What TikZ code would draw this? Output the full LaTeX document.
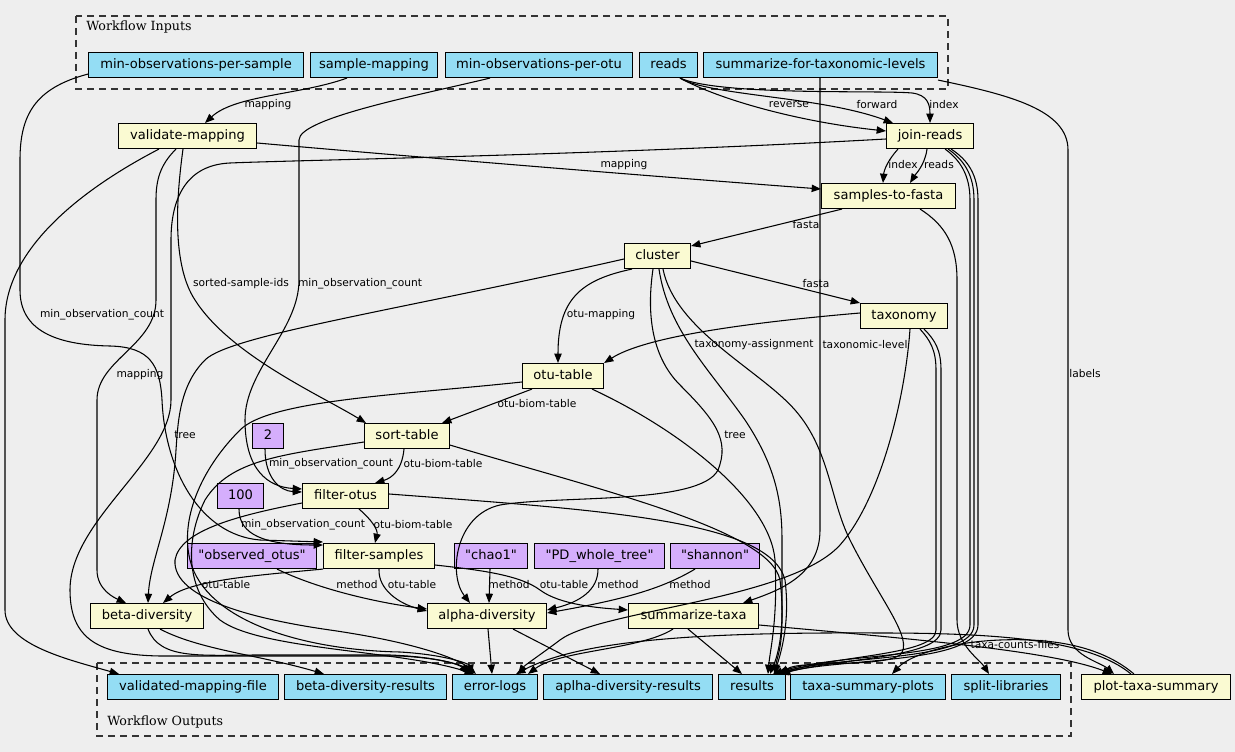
\documentclass[tikz,border=0pt]{standalone}
\usepackage{fontspec}
\setmainfont{DejaVu Sans}
\newfontfamily\plainfont{DejaVu Sans}
\newfontfamily\clusterfont{DejaVu Serif}
\usetikzlibrary{arrows.meta,calc}
\definecolor{bgc}{HTML}{EEEEEE}
\definecolor{inblue}{HTML}{94DDF4}
\definecolor{stepyel}{HTML}{FAFAD2}
\definecolor{defpur}{HTML}{D5AEFC}
\begin{document}
\begin{tikzpicture}[x=0.75pt,y=-0.75pt,
  box/.style={draw=black, line width=0.8pt, anchor=north west, minimum height=18.75pt, inner sep=0pt, font=\fontsize{9.8}{11}\selectfont, text height=7.3pt, text depth=2pt},
  inp/.style={box, fill=inblue},
  stepbox/.style={box, fill=stepyel},
  defv/.style={box, fill=defpur, font=\plainfont\fontsize{9.8}{11}\selectfont},
  conn/.style={line width=0.8pt, -{Triangle[length=7pt,width=5.5pt]}},
  lab/.style={font=\fontsize{8}{9}\selectfont, inner sep=0pt},
  grp/.style={draw=black!80, dash pattern=on 5.5pt off 3.5pt, line width=0.8pt},
  grplab/.style={anchor=west, inner sep=0pt, font=\clusterfont\fontsize{9.5}{11}\selectfont}
]
\fill[bgc] (0,0) rectangle (1235,752);
\useasboundingbox (0,0) rectangle (1235,752);

% clusters
\draw[grp] (76,16) rectangle (948,89);
\node[grplab] (inlab) at (86,27) {Workflow Inputs};
\draw[grp] (97,663) rectangle (1071,736);
\node[grplab] (outlab) at (107,722) {Workflow Outputs};

% inputs
\node[inp, minimum width=161.25pt] (mops) at (88,52) {min-observations-per-sample};
\node[inp, minimum width=95.25pt] (smap) at (310,52) {sample-mapping};
\node[inp, minimum width=140.25pt] (mopo) at (445,52) {min-observations-per-otu};
\node[inp, minimum width=43.5pt] (reads) at (639,52) {reads};
\node[inp, minimum width=175.5pt] (sftl) at (703,52) {summarize-for-taxonomic-levels};

% steps
\node[stepbox, minimum width=103.5pt] (vm) at (118,123) {validate-mapping};
\node[stepbox, minimum width=65.25pt] (jr) at (886,123) {join-reads};
\node[stepbox, minimum width=100.5pt] (stf) at (821,183) {samples-to-fasta};
\node[stepbox, minimum width=49.5pt] (cluster) at (624,243) {cluster};
\node[stepbox, minimum width=65.25pt] (taxonomy) at (860,303) {taxonomy};
\node[stepbox, minimum width=60.75pt] (otu) at (522,363) {otu-table};
\node[stepbox, minimum width=63.75pt] (sort) at (364,423) {sort-table};
\node[defv, minimum width=23.25pt] (d2) at (252,423) {2};
\node[stepbox, minimum width=64.5pt] (fo) at (302,483) {filter-otus};
\node[defv, minimum width=34.5pt] (d100) at (217,483) {100};
\node[defv, minimum width=96.75pt] (obs) at (187,543) {"observed\_otus"};
\node[stepbox, minimum width=83.25pt] (fs) at (323,543) {filter-samples};
\node[defv, minimum width=54.75pt] (chao) at (454,543) {"chao1"};
\node[defv, minimum width=97.5pt] (pd) at (534,543) {"PD\_whole\_tree"};
\node[defv, minimum width=66.75pt] (shannon) at (670,543) {"shannon"};
\node[stepbox, minimum width=84.75pt] (beta) at (90,603) {beta-diversity};
\node[stepbox, minimum width=89.25pt] (alpha) at (427,603) {alpha-diversity};
\node[stepbox, minimum width=97.5pt] (st) at (628,603) {summarize-taxa};

% outputs
\node[inp, minimum width=128.25pt] (vmf) at (107,674) {validated-mapping-file};
\node[inp, minimum width=121.5pt] (bdr) at (284,674) {beta-diversity-results};
\node[inp, minimum width=63.75pt] (el) at (452,674) {error-logs};
\node[inp, minimum width=126.75pt] (adr) at (543,674) {aplha-diversity-results};
\node[inp, minimum width=50.25pt] (results) at (718,674) {results};
\node[inp, minimum width=116.25pt] (tsp) at (790,674) {taxa-summary-plots};
\node[inp, minimum width=81.75pt] (sl) at (951,674) {split-libraries};
\node[stepbox, minimum width=111.75pt] (pts) at (1081,674) {plot-taxa-summary};

% ---- edges from inputs
\draw[conn] ($(smap.south west)+(37,0)$) .. controls (300,95) and (235,95) .. ($(vm.north west)+(87,0)$) node[lab] at (268,105) {mapping};
\draw[conn] ($(mops.south west)+(0,-4)$) .. controls (35,88) and (20,115) .. (20,160) -- (20,290) .. controls (20,330) and (55,345) .. (110,346) .. controls (150,347) and (160,365) .. (162,400) .. controls (165,470) and (200,535) .. (260,540) -- ($(fs.north west)+(0,-1)$) node[lab] at (102,315) {min\_observation\_count};
\draw[conn] ($(d100.south west)+(22,0)$) .. controls (239,535) and (265,545) .. ($(fs.north west)+(0,2)$) node[lab] at (303,525) {min\_observation\_count};
\draw[conn] ($(mopo.south west)+(45,0)$) .. controls (420,95) and (299,118) .. (299,140) -- (299,280) .. controls (299,330) and (245,370) .. (245,420) .. controls (245,470) and (268,487) .. ($(fo.north west)+(0,6)$) node[lab] at (360,284) {min\_observation\_count};
\draw[conn] ($(d2.south west)+(13,0)$) .. controls (265,478) and (280,491) .. ($(fo.north west)+(0,9)$) node[lab] at (331,464) {min\_observation\_count};
\draw[conn] ($(reads.south west)+(41,0)$) .. controls (720,100) and (800,122) .. ($(jr.north west)+(0,8)$) node[lab] at (789,105) {reverse};
\draw[conn] ($(reads.south west)+(41,0)$) .. controls (710,96) and (820,96) .. ($(jr.north west)+(7,0)$) node[lab] at (877,105) {forward};
\draw[conn] ($(reads.south west)+(41,0)$) .. controls (720,96) and (880,90) .. (912,93) .. controls (928,95) and (930,105) .. ($(jr.north west)+(44,0)$) node[lab] at (944,105) {index};
\draw[conn] ($(sftl.south west)+(117,0)$) -- (820,530) .. controls (820,575) and (780,590) .. ($(st.north west)+(115,0)$) node[lab] at (865,345) {taxonomic-level};
\draw[conn] ($(sftl.south east)+(0,2)$) .. controls (1010,95) and (1068,110) .. (1068,150) -- (1068,630) .. controls (1068,655) and (1100,662) .. ($(pts.north west)+(33,0)$) node[lab] at (1085,374) {labels};

% ---- validate-mapping
\draw[conn] ($(vm.north east)+(0,20)$) .. controls (450,160) and (700,180) .. ($(stf.north west)+(0,6)$) node[lab] at (624,165) {mapping};
\draw[conn] ($(vm.south west)+(65,0)$) .. controls (176,200) and (172,265) .. (195,300) .. controls (230,355) and (320,395) .. ($(sort.north west)+(2,0)$) node[lab] at (241,284) {sorted-sample-ids};
\draw[conn] ($(vm.south west)+(58,0)$) .. controls (160,165) and (156,180) .. (156,200) -- (156,300) .. controls (156,345) and (97,360) .. (97,400) -- (97,570) .. controls (97,590) and (115,598) .. ($(beta.north west)+(36,0)$) node[lab] at (140,375) {mapping};
\draw[conn] ($(vm.south west)+(41,0)$) .. controls (80,190) and (5,250) .. (5,320) -- (5,610) .. controls (5,645) and (70,660) .. ($(vmf.north west)+(12,0)$);

% ---- join-reads
\draw[conn] ($(jr.south west)+(12,0)$) .. controls (888,160) and (884,170) .. ($(stf.north west)+(62,0)$) node[lab] at (903,165) {index};
\draw[conn] ($(jr.south west)+(41,0)$) .. controls (925,165) and (915,175) .. ($(stf.north west)+(89,0)$) node[lab] at (939,165) {reads};
\draw[conn] ($(jr.north west)+(0,16)$) .. controls (600,155) and (300,160) .. (230,163) .. controls (185,165) and (171,200) .. (171,240) -- (171,400) .. controls (171,460) and (70,520) .. (70,590) .. controls (70,640) and (100,655) .. (160,656) -- (400,656) .. controls (440,658) and (462,665) .. ($(el.north west)+(18,0)$);
\draw[conn] ($(jr.south east)+(-29,0)$) .. controls (960,160) and (970,175) .. (970,200) -- (970,625) .. controls (970,660) and (840,652) .. ($(results.north west)+(55,0)$);
\draw[conn] ($(jr.south east)+(-26,0)$) .. controls (964,160) and (974,175) .. (974,200) -- (974,625) .. controls (974,662) and (840,655) .. ($(results.north west)+(58,0)$);
\draw[conn] ($(jr.south east)+(-23,0)$) .. controls (968,160) and (978,175) .. (978,200) -- (978,625) .. controls (978,664) and (840,658) .. ($(results.north west)+(61,0)$);

% ---- samples-to-fasta
\draw[conn] ($(stf.south west)+(21,0)$) -- ($(cluster.north east)+(0,3)$) node[lab] at (806,225) {fasta};
\draw[conn] ($(stf.south east)+(-36,0)$) .. controls (945,225) and (957,245) .. (957,280) -- (957,620) .. controls (957,645) and (980,660) .. ($(sl.north west)+(38,0)$);

% ---- cluster
\draw[conn] ($(cluster.north east)+(0,18)$) -- (taxonomy.north west) node[lab] at (816,284) {fasta};
\draw[conn] ($(cluster.south west)+(8,0)$) .. controls (580,280) and (558,300) .. ($(otu.north west)+(36,0)$) node[lab] at (601,315) {otu-mapping};
\draw[conn] ($(cluster.north west)+(0,16)$) .. controls (400,310) and (230,335) .. (205,360) .. controls (180,385) and (178,420) .. (176,450) .. controls (172,520) and (150,560) .. ($(beta.north west)+(58,0)$) node[lab] at (185,435) {tree};
\draw[conn] ($(cluster.south west)+(29,0)$) .. controls (647,310) and (650,355) .. (680,385) .. controls (715,420) and (730,440) .. (718,470) .. controls (700,505) and (560,495) .. (500,505) .. controls (455,515) and (448,575) .. ($(alpha.north west)+(43,0)$) node[lab] at (735,435) {tree};
\draw[conn] ($(cluster.south west)+(35,0)$) .. controls (668,330) and (710,370) .. (745,420) .. controls (775,465) and (782,500) .. (782,540) -- (782,620) .. controls (782,650) and (776,660) .. ($(results.north west)+(58,0)$);
\draw[conn] ($(cluster.south west)+(39,0)$) .. controls (675,330) and (760,370) .. (795,410) .. controls (830,450) and (830,500) .. (850,540) .. controls (880,600) and (915,640) .. (900,655) .. controls (880,668) and (800,660) .. ($(results.north west)+(62,0)$);

% ---- taxonomy
\draw[conn] ($(taxonomy.north west)+(0,10)$) .. controls (720,325) and (640,340) .. (otu.north east) node[lab] at (754,345) {taxonomy-assignment};
\draw[conn] ($(taxonomy.south west)+(50,0)$) .. controls (905,400) and (880,500) .. (840,545) .. controls (790,600) and (600,610) .. (560,640) .. controls (540,655) and (525,665) .. ($(el.north east)+(-20,0)$);
\draw[conn] ($(taxonomy.south west)+(60,0)$) .. controls (930,340) and (936,350) .. (936,370) -- (936,630) .. controls (936,655) and (840,655) .. ($(results.north west)+(60,0)$);
\draw[conn] ($(taxonomy.south west)+(64,0)$) .. controls (935,340) and (941,350) .. (941,370) -- (941,630) .. controls (941,658) and (840,658) .. ($(results.north west)+(63,0)$);

% ---- otu-table
\draw[conn] ($(otu.south west)+(10,0)$) -- ($(sort.north east)+(-8,0)$) node[lab] at (537,404) {otu-biom-table};
\draw[conn] ($(otu.north west)+(0,19)$) .. controls (400,395) and (270,400) .. (240,430) .. controls (200,470) and (180,520) .. (190,560) .. controls (205,620) and (300,650) .. (400,652) .. controls (450,655) and (470,665) .. ($(el.north west)+(20,0)$);
\draw[conn] ($(otu.south east)+(-12,0)$) .. controls (680,430) and (770,500) .. (775,560) .. controls (778,620) and (770,650) .. ($(results.north west)+(50,0)$);

% ---- sort-table
\draw[conn] ($(sort.south west)+(40,0)$) .. controls (402,470) and (392,478) .. ($(fo.north east)+(-14,0)$) node[lab] at (443,464) {otu-biom-table};
\draw[conn] ($(sort.north west)+(0,19)$) .. controls (280,455) and (230,460) .. (205,500) .. controls (185,540) and (185,590) .. (220,620) .. controls (260,650) and (400,650) .. ($(el.north west)+(22,0)$);
\draw[conn] ($(sort.south east)+(0,-4)$) .. controls (600,490) and (770,530) .. (780,580) .. controls (785,620) and (780,650) .. ($(results.north west)+(52,0)$);

% ---- filter-otus
\draw[conn] ($(fo.south west)+(57,0)$) .. controls (372,520) and (378,530) .. ($(fs.north west)+(52,0)$) node[lab] at (413,525) {otu-biom-table};
\draw[conn] ($(fo.north west)+(0,20)$) .. controls (240,515) and (180,530) .. (175,560) .. controls (172,600) and (260,620) .. (330,630) .. controls (420,643) and (460,660) .. ($(el.north west)+(24,0)$);
\draw[conn] ($(fo.north east)+(0,11)$) .. controls (600,510) and (770,520) .. (785,580) .. controls (790,620) and (782,650) .. ($(results.north west)+(56,0)$);

% ---- filter-samples and defaults
\draw[conn] (fs.south west) .. controls (260,575) and (190,580) .. ($(beta.north east)+(-41,0)$) node[lab] at (226,585) {otu-table};
\draw[conn] ($(fs.south west)+(56,0)$) .. controls (378,590) and (400,604) .. ($(alpha.north west)+(0,8)$) node[lab] at (412,585) {otu-table};
\draw[conn] ($(fs.north east)+(0,22)$) .. controls (480,570) and (520,575) .. (540,590) .. controls (560,605) and (600,608) .. ($(st.north west)+(0,7)$) node[lab] at (564,585) {otu-table};
\draw[conn] ($(obs.south west)+(90,0)$) .. controls (320,590) and (380,603) .. ($(alpha.north west)+(0,6)$) node[lab] at (357,585) {method};
\draw[conn] ($(chao.south west)+(36,0)$) -- ($(alpha.north west)+(62,0)$) node[lab] at (509,585) {method};
\draw[conn] ($(pd.south west)+(64,0)$) .. controls (598,590) and (580,602) .. ($(alpha.north east)+(0,7)$) node[lab] at (618,585) {method};
\draw[conn] ($(shannon.south west)+(25,0)$) .. controls (660,590) and (620,600) .. ($(alpha.north east)+(0,10)$) node[lab] at (690,585) {method};

% ---- bottom steps
\draw[conn] ($(beta.south west)+(70,0)$) .. controls (200,650) and (260,655) .. ($(bdr.north west)+(40,0)$);
\draw[conn] ($(beta.south west)+(58,0)$) .. controls (160,660) and (200,655) .. (260,655) -- (390,655) .. controls (440,657) and (460,665) .. ($(el.north west)+(16,0)$);
\draw[conn] ($(alpha.south west)+(61,0)$) -- ($(el.north west)+(40,0)$);
\draw[conn] ($(alpha.south west)+(86,0)$) -- ($(adr.north west)+(57,0)$);
\draw[conn] ($(st.south west)+(60,0)$) -- ($(results.north west)+(24,0)$);
\draw[conn] ($(st.south west)+(45,0)$) .. controls (640,650) and (560,650) .. ($(el.north east)+(-10,0)$);
\draw[conn] ($(st.north east)+(0,22)$) .. controls (900,638) and (1050,650) .. ($(pts.north west)+(31,0)$) node[lab] at (1015,645) {taxa-counts-files};
\draw[conn] ($(pts.north west)+(53,0)$) .. controls (1100,645) and (1050,638) .. (1000,640) .. controls (950,642) and (910,655) .. ($(tsp.north west)+(102,0)$);
\draw[conn] ($(pts.north west)+(50,0)$) .. controls (1090,640) and (1000,633) .. (880,633) .. controls (700,632) and (580,640) .. ($(el.north east)+(-22,0)$);
\end{tikzpicture}
\end{document}
